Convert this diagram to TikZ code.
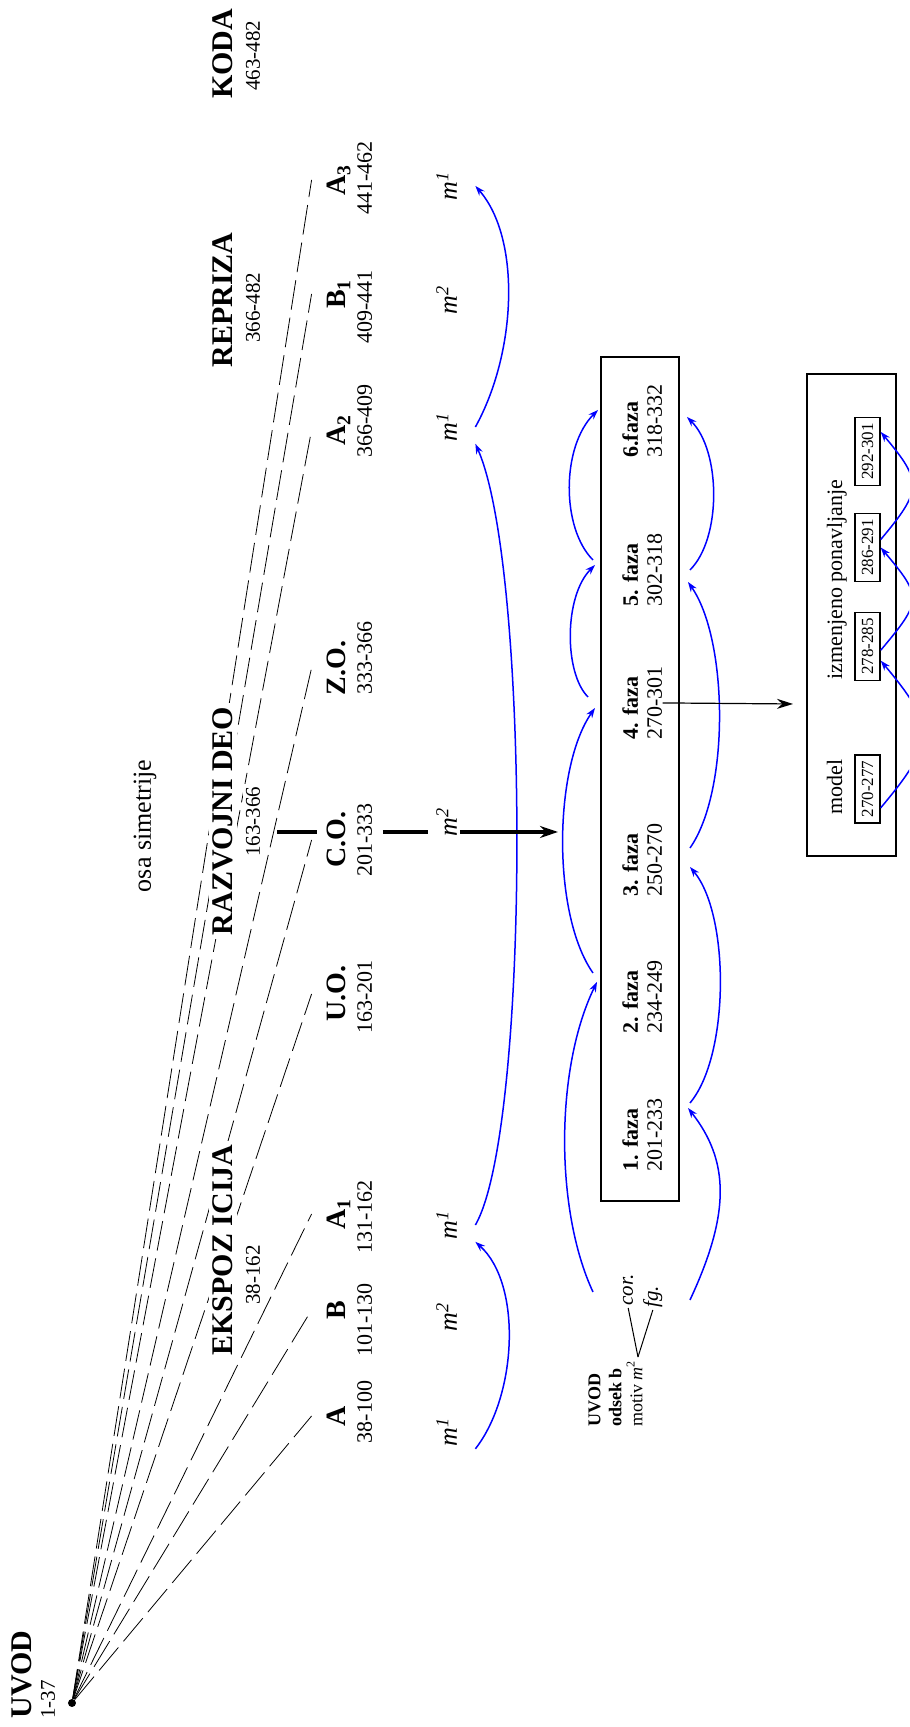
\documentclass[tikz,border=0pt]{standalone}
\usepackage{fontspec}
\setmainfont{Liberation Serif}
\usetikzlibrary{arrows.meta}

\begin{document}
\begin{tikzpicture}[x=0.5pt,y=0.5pt,rotate=90,transform shape,
  headtxt/.style={font=\fontsize{15}{17}\selectfont\bfseries,fill=white,inner sep=2pt,anchor=base},
  headnum/.style={font=\fontsize{10.5}{12}\selectfont,fill=white,inner sep=1.5pt,anchor=base},
  itemtxt/.style={font=\fontsize{14}{16}\selectfont\bfseries,inner sep=2pt,text height=15pt,anchor=base},
  itemnum/.style={font=\fontsize{11}{13}\selectfont,inner sep=0pt,anchor=base},
  mtxt/.style={font=\fontsize{13}{15}\selectfont\itshape,inner xsep=1pt,inner ysep=9pt,anchor=base},
  fanline/.style={line width=0.4pt,dash pattern=on 15pt off 4pt},
  thickbar/.style={line width=2pt},
  bluearc/.style={blue,line width=0.75pt,-{Stealth[length=5pt,width=3.5pt]}},
  fazatxt/.style={font=\fontsize{11}{12}\selectfont,align=left,inner sep=0pt,anchor=north west},
  boxline/.style={line width=1pt},
  rangebox/.style={draw,line width=0.7pt,font=\fontsize{8.5}{10}\selectfont,inner sep=0pt,minimum width=34pt,minimum height=12.5pt}]
\clip (0,0) rectangle (1727,909);

\node[circle,fill,inner sep=0pt,minimum size=4pt] (uvod) at (24,837) {};

\node[itemtxt] (eA) at (311,563) {A};
\node[itemnum] (nA) at (315,537) {38-100};
\node[itemtxt] (eB) at (417,563) {B};
\node[itemnum] (nB) at (407,537) {101-130};
\node[itemtxt] (eA1) at (513,563) {A\textsubscript{1}};
\node[itemnum] (nA1) at (510,537) {131-162};
\node[itemtxt] (eUO) at (733,563) {U.O.};
\node[itemnum] (nUO) at (730,537) {163-201};
\node[itemtxt] (eCO) at (887,563) {C.O.};
\node[itemnum] (nCO) at (887,537) {201-333};
\node[itemtxt] (eZO) at (1059,563) {Z.O.};
\node[itemnum] (nZO) at (1069,537) {333-366};
\node[itemtxt] (eA2) at (1297,563) {A\textsubscript{2}};
\node[itemnum] (nA2) at (1306,537) {366-409};
\node[itemtxt] (eB1) at (1433,563) {B\textsubscript{1}};
\node[itemnum] (nB1) at (1420,537) {409-441};
\node[itemtxt] (eA3) at (1547,563) {A\textsubscript{3}};
\node[itemnum] (nA3) at (1549,537) {441-462};

\draw[fanline] (uvod) -- (eA.north);
\draw[fanline] (uvod) -- (eB.north);
\draw[fanline] (uvod) -- (eA1.north);
\draw[fanline] (uvod) -- (eUO.north);
\draw[fanline] (uvod) -- (eCO.north);
\draw[fanline] (uvod) -- (eZO.north);
\draw[fanline] (uvod) -- (eA2.north);
\draw[fanline] (uvod) -- (eB1.north);
\draw[fanline] (uvod) -- (eA3.north);

\node[headtxt,anchor=base west] (uvodtxt) at (4,877) {UVOD};
\node[headnum,anchor=base west] (uvodnum) at (5,854) {1-37};
\node[headtxt] (eksp) at (477,676) {EKSPOZ ICIJA};
\node[headnum] (ekspnum) at (452,649) {38-162};
\node[headtxt] (razv) at (906,676) {RAZVOJNI DEO};
\node[headnum] (razvnum) at (905,649) {163-366};
\node[headtxt] (repr) at (1427,676) {REPRIZA};
\node[headnum] (reprnum) at (1419,649) {366-482};
\node[headtxt] (koda) at (1673,676) {KODA};
\node[headnum] (kodanum) at (1671,649) {463-482};
\node[font=\fontsize{13}{15}\selectfont] (osa) at (901,764) {osa simetrije};

\node[mtxt] (mA) at (295,452) {m\textsuperscript{1}};
\node[mtxt] (mB) at (410,452) {m\textsuperscript{2}};
\node[mtxt] (mA1) at (502,452) {m\textsuperscript{1}};
\node[mtxt] (mCO) at (905,452) {m\textsuperscript{2}};
\node[mtxt] (mA2) at (1300,452) {m\textsuperscript{1}};
\node[mtxt] (mB1) at (1427,452) {m\textsuperscript{2}};
\node[mtxt] (mA3) at (1541,452) {m\textsuperscript{1}};

\draw[bluearc] (mA.south west) .. controls +(-38:68) and +(-132:63) .. (mA1.south west);
\draw[bluearc] (mA1.south) .. controls +(-30:110) and +(-156:135) .. (mA2.south west);
\draw[bluearc] (mA2.south) .. controls +(-29:85) and +(-139:70) .. (mA3.south);

\coordinate (bar0) at (895,632);
\coordinate (bar1) at (895,592);
\coordinate (bar2) at (895,526);
\coordinate (bar3) at (895,481);
\coordinate (bar4) at (895,449);
\coordinate (bar5) at (895,351);
\draw[thickbar] (bar0) -- (bar1);
\draw[thickbar] (bar2) -- (bar3);
\draw[thickbar,-{Stealth[length=9pt,width=6pt]}] (bar4) -- (bar5);

\node[font=\fontsize{9}{10.5}\selectfont,align=left,inner sep=0pt,anchor=north west] (intro) at (300,321) {\textbf{UVOD}\\\textbf{odsek b}\\motiv \textit{m}\textsuperscript{2}};
\node[font=\fontsize{10.5}{12}\selectfont\itshape,inner sep=1pt,anchor=base west] (cor) at (419,276) {cor.};
\node[font=\fontsize{10.5}{12}\selectfont\itshape,inner sep=1pt,anchor=base west] (fg) at (417,251) {fg.};
\coordinate (split) at (370,271);
\draw[line width=0.5pt] (split) -- (cor.west);
\draw[line width=0.5pt] (split) -- (fg.west);

\draw[boxline] (526,230) rectangle (1370,308);
\node[fazatxt] (f1) at (555,287) {\textbf{1. faza}\\201-233};
\node[fazatxt] (f2) at (693,287) {\textbf{2. faza}\\234-249};
\node[fazatxt] (f3) at (830,287) {\textbf{3. faza}\\250-270};
\node[fazatxt] (f4) at (987,287) {\textbf{4. faza}\\270-301};
\node[fazatxt] (f5) at (1120,287) {\textbf{5. faza}\\302-318};
\node[fazatxt] (f6) at (1269,287) {\textbf{6.faza}\\318-332};

\coordinate (up0) at (435,316);
\coordinate (up2) at (745,312);
\coordinate (up2b) at (754,316);
\coordinate (up4) at (1019,314);
\coordinate (up4b) at (1030,321);
\coordinate (up5) at (1162,314);
\coordinate (up5b) at (1167,316);
\coordinate (up6) at (1317,311);
\coordinate (lo0) at (427,219);
\coordinate (lo1) at (619,221);
\coordinate (lo1b) at (624,219);
\coordinate (lo3) at (860,219);
\coordinate (lo3b) at (879,219);
\coordinate (lo5) at (1145,221);
\coordinate (lo5b) at (1157,219);
\coordinate (lo6) at (1310,222);
\draw[bluearc] (up0) .. controls +(25:90) and +(154:96) .. (up2);
\draw[bluearc] (up2b) .. controls +(35:72) and +(145:72) .. (up4);
\draw[bluearc] (up4b) .. controls +(45:34) and +(135:44) .. (up5);
\draw[bluearc] (up5b) .. controls +(45:45) and +(135:52) .. (up6);
\draw[bluearc] (lo0) .. controls +(-25:95) and +(-142:68) .. (lo1);
\draw[bluearc] (lo1b) .. controls +(-40:62) and +(-140:62) .. (lo3);
\draw[bluearc] (lo3b) .. controls +(-35:70) and +(-145:70) .. (lo5);
\draw[bluearc] (lo5b) .. controls +(-45:45) and +(-135:48) .. (lo6);

\draw[boxline] (871,13) rectangle (1353,102);
\node[font=\fontsize{11}{13}\selectfont,inner sep=0pt,anchor=base] (model) at (940,67) {model};
\node[font=\fontsize{11}{13}\selectfont,inner sep=0pt,anchor=base west] (izm) at (1047,67) {izmenjeno ponavljanje};
\node[rangebox] (r1) at (938,41.5) {270-277};
\node[rangebox] (r2) at (1080.5,41.5) {278-285};
\node[rangebox] (r3) at (1179.5,41.5) {286-291};
\node[rangebox] (r4) at (1275.5,41.5) {292-301};
\draw[bluearc] (r1.215) .. controls +(-40:86) and +(-140:86) .. (r2.223);
\draw[bluearc] (r2.254) .. controls +(-40:65) and +(-140:65) .. (r3.270);
\draw[bluearc] (r3.301) .. controls +(-40:65) and +(-140:65) .. (r4.326);

\coordinate (to2) at (1023,116);
\draw[line width=0.6pt,-{Stealth[length=8pt,width=5pt]}] (f4.south) -- (to2);
\end{tikzpicture}
\end{document}
